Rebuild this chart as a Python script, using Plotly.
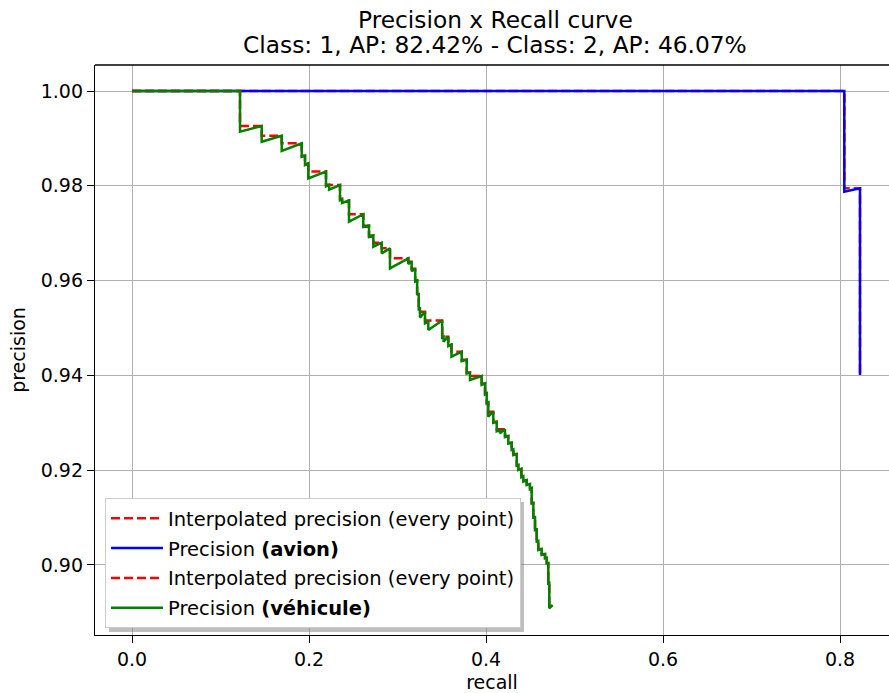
import plotly.graph_objects as go

# ---- data ----
avion_recall = [0.0, 0.80486, 0.80486, 0.82260, 0.82260]
avion_precision = [1.0, 1.0, 0.97876, 0.97947, 0.94008]
avion_interp_recall = [0.0, 0.80486, 0.82260]
avion_interp_precision = [1.0, 0.97947, 0.94008]

vehicule_recall = [
    0.0, 0.12203, 0.12203, 0.14655, 0.14655, 0.16915, 0.16915, 0.19175, 0.19175, 0.19548,
    0.19548, 0.19921, 0.19921, 0.21921, 0.21921, 0.22270, 0.22270, 0.23503, 0.23503, 0.23729,
    0.23729, 0.24520, 0.24520, 0.26136, 0.26136, 0.26780, 0.26780, 0.27270, 0.27270, 0.28215,
    0.28215, 0.29150, 0.29150, 0.31220, 0.31220, 0.31600, 0.31600, 0.32000, 0.32000, 0.32220,
    0.32220, 0.32400, 0.32400, 0.32540, 0.32540, 0.33110, 0.33110, 0.33480, 0.33480, 0.35050,
    0.35050, 0.35200, 0.35200, 0.35740, 0.35740, 0.36100, 0.36100, 0.37254, 0.37254, 0.37820,
    0.37820, 0.38190, 0.38190, 0.39510, 0.39510, 0.39890, 0.39890, 0.40080, 0.40080, 0.40260,
    0.40260, 0.40825, 0.40825, 0.41210, 0.41210, 0.41580, 0.41580, 0.42147, 0.42147, 0.42520,
    0.42520, 0.42900, 0.42900, 0.43090, 0.43090, 0.43470, 0.43470, 0.43650, 0.43650, 0.44000,
    0.44000, 0.44220, 0.44220, 0.44600, 0.44600, 0.44970, 0.44970, 0.45160, 0.45160, 0.45350,
    0.45350, 0.45540, 0.45540, 0.45730, 0.45730, 0.45910, 0.45910, 0.46290, 0.46290, 0.46670,
    0.46670, 0.46860, 0.46860, 0.47040, 0.47040, 0.47150, 0.47150, 0.47537,
]
vehicule_precision = [
    1.0, 1.0, 0.99141, 0.99262, 0.98930, 0.99057, 0.98734, 0.98897, 0.98614, 0.98635,
    0.98439, 0.98470, 0.98158, 0.98300, 0.97990, 0.98020, 0.97920, 0.98017, 0.97700, 0.97720,
    0.97637, 0.97690, 0.97243, 0.97400, 0.97131, 0.97160, 0.96920, 0.96950, 0.96715, 0.96800,
    0.96576, 0.96681, 0.96259, 0.96470, 0.96350, 0.96400, 0.96200, 0.96250, 0.95980, 0.96000,
    0.95700, 0.95720, 0.95400, 0.95410, 0.95220, 0.95344, 0.95100, 0.95130, 0.94958, 0.95160,
    0.94800, 0.94815, 0.94711, 0.94816, 0.94620, 0.94650, 0.94395, 0.94500, 0.94300, 0.94330,
    0.94040, 0.94060, 0.93903, 0.93987, 0.93800, 0.93830, 0.93600, 0.93620, 0.93411, 0.93430,
    0.93129, 0.93234, 0.93000, 0.93020, 0.92820, 0.92840, 0.92778, 0.92863, 0.92700, 0.92720,
    0.92560, 0.92580, 0.92426, 0.92440, 0.92320, 0.92340, 0.92100, 0.92110, 0.92004, 0.92030,
    0.91850, 0.91870, 0.91760, 0.91790, 0.91688, 0.91710, 0.91600, 0.91620, 0.91300, 0.91310,
    0.91000, 0.91010, 0.90738, 0.90750, 0.90500, 0.90510, 0.90316, 0.90340, 0.90211, 0.90230,
    0.90141, 0.90150, 0.90036, 0.90040, 0.89614, 0.89620, 0.89086, 0.89156,
]

vehicule_interp_recall = [
    0.0, 0.12203, 0.14655, 0.16915, 0.19175, 0.19548, 0.19921, 0.21921, 0.22270, 0.23503,
    0.23729, 0.24520, 0.26136, 0.26780, 0.27270, 0.28215, 0.29150, 0.31220, 0.31600, 0.32000,
    0.32220, 0.32400, 0.32540, 0.33110, 0.35050, 0.35740, 0.36100, 0.37254, 0.37820, 0.38190,
    0.39510, 0.39890, 0.40080, 0.40260, 0.40825, 0.41210, 0.42147, 0.42520, 0.42900, 0.43090,
    0.43470, 0.43650, 0.44000, 0.44220, 0.44600, 0.44970, 0.45160, 0.45350, 0.45540, 0.45730,
    0.45910, 0.46290, 0.46670, 0.46860, 0.47040, 0.47150, 0.47537,
]
vehicule_interp_precision = [
    1.0, 0.99262, 0.99057, 0.98897, 0.98635, 0.98470, 0.98300, 0.98020, 0.98017, 0.97720,
    0.97690, 0.97400, 0.97160, 0.96950, 0.96800, 0.96681, 0.96470, 0.96400, 0.96250, 0.96000,
    0.95720, 0.95410, 0.95344, 0.95160, 0.94816, 0.94650, 0.94500, 0.94330, 0.94060, 0.93987,
    0.93830, 0.93620, 0.93430, 0.93234, 0.93020, 0.92863, 0.92720, 0.92580, 0.92440, 0.92340,
    0.92110, 0.92030, 0.91870, 0.91790, 0.91710, 0.91620, 0.91310, 0.91010, 0.90750, 0.90510,
    0.90340, 0.90230, 0.90150, 0.90040, 0.89620, 0.89156, 0.89156,
]

x_ticks = [0.0, 0.2, 0.4, 0.6, 0.8]
x_tick_labels = ["0.0", "0.2", "0.4", "0.6", "0.8"]
y_ticks = [0.90, 0.92, 0.94, 0.96, 0.98, 1.00]
y_tick_labels = ["0.90", "0.92", "0.94", "0.96", "0.98", "1.00"]

title_lines = ["Precision x Recall curve", "Class: 1, AP: 82.42% - Class: 2, AP: 46.07%"]

FONT = "DejaVu Sans"
FS = 19
LFS = 19.5
LW = 2.5
DASH = "9px,4px"

fig = go.Figure()
fig.add_trace(go.Scatter(
    x=avion_interp_recall, y=avion_interp_precision, mode="lines", line_shape="hv",
    line=dict(color="red", width=LW, dash=DASH),
    name="Interpolated precision (every point)", legendgroup="g1"))
fig.add_trace(go.Scatter(
    x=avion_recall, y=avion_precision, mode="lines",
    line=dict(color="blue", width=LW),
    name="Precision <b>(avion)</b>", legendgroup="g2"))
fig.add_trace(go.Scatter(
    x=vehicule_interp_recall, y=vehicule_interp_precision, mode="lines", line_shape="hv",
    line=dict(color="red", width=LW, dash=DASH),
    name="Interpolated precision (every point)", legendgroup="g3"))
fig.add_trace(go.Scatter(
    x=vehicule_recall, y=vehicule_precision, mode="lines",
    line=dict(color="green", width=LW),
    name="Precision <b>(véhicule)</b>", legendgroup="g4"))

W, H = 889, 693
ML, MT, MB = 95, 65, 58
PW, PH = W - ML, H - MT - MB


def px_x(p):
    return (p - ML) / PW


def px_y(p):
    return (H - MB - p) / PH


annotations = [
    dict(text=title_lines[0], xref="paper", yref="paper", x=px_x(495), y=px_y(20),
         xanchor="center", yanchor="middle", showarrow=False,
         font=dict(family=FONT, size=23.3, color="black")),
    dict(text=title_lines[1], xref="paper", yref="paper", x=px_x(495), y=px_y(44),
         xanchor="center", yanchor="middle", showarrow=False,
         font=dict(family=FONT, size=23.3, color="black")),
]

fig.update_layout(
    width=W, height=H,
    margin=dict(l=ML, r=0, t=MT, b=MB, pad=0),
    paper_bgcolor="white", plot_bgcolor="white",
    font=dict(family=FONT, size=FS, color="black"),
    showlegend=True,
    legend=dict(x=px_x(105), y=px_y(628), xanchor="left", yanchor="bottom",
                bgcolor="white", bordercolor="#cccccc", borderwidth=1,
                font=dict(family=FONT, size=LFS, color="black"),
                traceorder="grouped", tracegroupgap=1.5, itemwidth=52),
    xaxis=dict(range=[-0.04181, 0.85537], tickvals=x_ticks, ticktext=x_tick_labels,
               showgrid=True, gridcolor="#b0b0b0", gridwidth=1.4, zeroline=False,
               showline=True, linecolor="black", linewidth=1.4,
               ticks="outside", ticklen=7, tickwidth=1.4, tickcolor="black",
               title=dict(text="recall", standoff=7, font=dict(family=FONT, size=FS))),
    yaxis=dict(range=[0.88523, 1.00549], tickvals=y_ticks, ticktext=y_tick_labels,
               showgrid=True, gridcolor="#b0b0b0", gridwidth=1.4, zeroline=False,
               showline=True, linecolor="black", linewidth=1.4,
               ticks="outside", ticklen=7, tickwidth=1.4, tickcolor="black",
               title=dict(text="precision", standoff=10, font=dict(family=FONT, size=FS))),
    annotations=annotations,
    shapes=[
        dict(type="line", xref="paper", yref="paper", x0=0, x1=1, y0=1, y1=1,
             line=dict(color="black", width=1.4)),
        # legend drop shadow
        dict(type="rect", xref="paper", yref="paper",
             x0=px_x(109), x1=px_x(524), y0=px_y(632), y1=px_y(502),
             fillcolor="rgba(128,128,128,0.5)", line=dict(width=0), layer="above"),
    ],
)

fig.write_html("out.html")
